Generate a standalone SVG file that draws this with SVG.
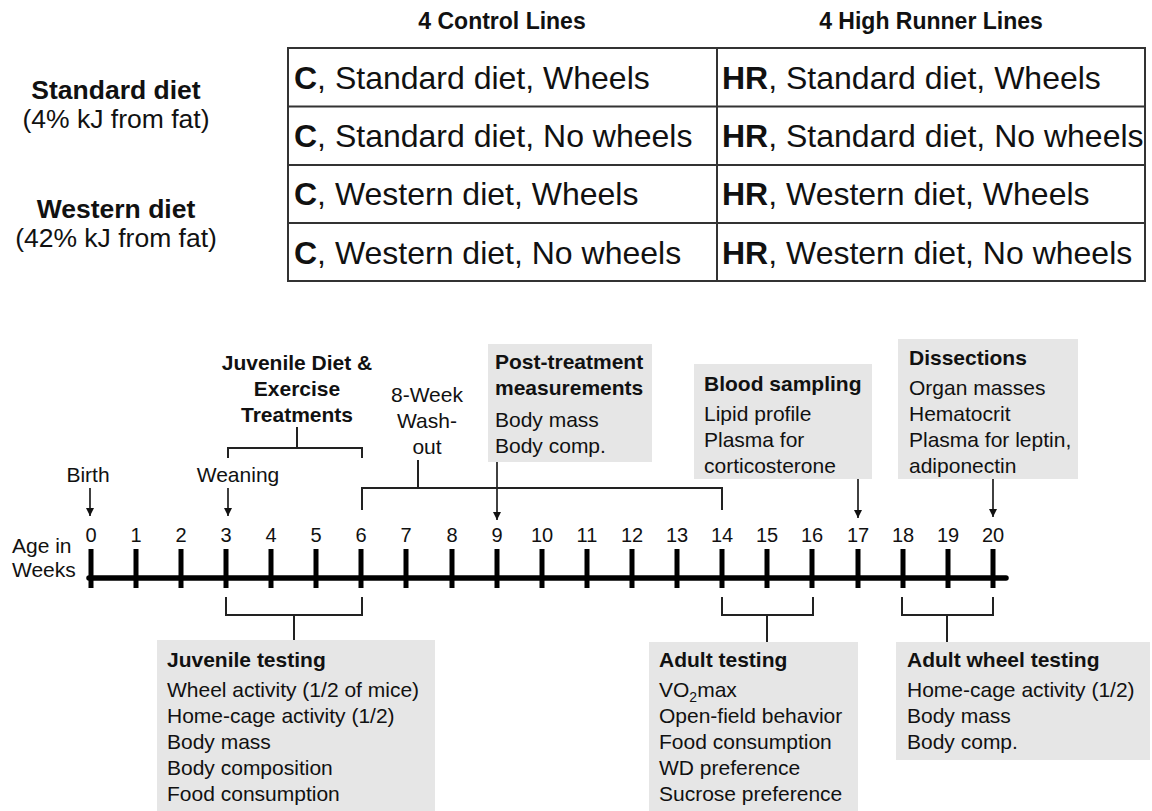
<svg xmlns="http://www.w3.org/2000/svg" width="1152" height="811" viewBox="0 0 1152 811">
<style>
text{font-family:"Liberation Sans",Arial,sans-serif;fill:#111}
.b{font-weight:bold}
.hd{font-size:23px;font-weight:bold;text-anchor:middle}
.lab{font-size:26.5px;text-anchor:middle}
.cell{font-size:32px}
.t{font-size:21px}
.num{font-size:20px;text-anchor:middle}
.mid{text-anchor:middle}
.grid{fill:none;stroke:#333;stroke-width:2}
.box{fill:#e6e6e6}
.br{fill:none;stroke:#222;stroke-width:2}
.ar{stroke:#111;stroke-width:1.6;marker-end:url(#ah)}
.axis{stroke:#000;stroke-width:5.5;stroke-linecap:round}
.tick{stroke:#000;stroke-width:5}
</style>
<defs>
<marker id="ah" markerUnits="userSpaceOnUse" markerWidth="10" markerHeight="10" refX="8" refY="4" orient="auto">
<path d="M0,0 L8,4 L0,8 Z" fill="#111"/>
</marker>
</defs>

<g id="table">
<text class="hd" x="502" y="29">4 Control Lines</text>
<text class="hd" x="931" y="29">4 High Runner Lines</text>
<text class="lab b" x="116" y="99">Standard diet</text>
<text class="lab" x="116" y="128">(4% kJ from fat)</text>
<text class="lab b" x="116" y="218">Western diet</text>
<text class="lab" x="116" y="247">(42% kJ from fat)</text>
<rect class="grid" x="288" y="48" width="857" height="233"/>
<path class="grid" d="M288,106.5H1145M288,165H1145M288,223H1145M717,48V281"/>
<text class="cell" x="294" y="89"><tspan class="b">C</tspan>, Standard diet, Wheels</text>
<text class="cell" x="294" y="147"><tspan class="b">C</tspan>, Standard diet, No wheels</text>
<text class="cell" x="294" y="205"><tspan class="b">C</tspan>, Western diet, Wheels</text>
<text class="cell" x="294" y="264"><tspan class="b">C</tspan>, Western diet, No wheels</text>
<text class="cell" x="722" y="89"><tspan class="b">HR</tspan>, Standard diet, Wheels</text>
<text class="cell" x="722" y="147"><tspan class="b">HR</tspan>, Standard diet, No wheels</text>
<text class="cell" x="722" y="205"><tspan class="b">HR</tspan>, Western diet, Wheels</text>
<text class="cell" x="722" y="264"><tspan class="b">HR</tspan>, Western diet, No wheels</text>
</g>

<g id="axis">
<text class="t" x="12" y="553">Age in</text>
<text class="t" x="12" y="577">Weeks</text>
<line class="axis" x1="89" y1="578" x2="1006" y2="578"/>
<path class="tick" d="M91,549V588M136,549V588M181,549V588M226,549V588M271,549V588M316,549V588M361,549V588M406,549V588M452,549V588M497,549V588M542,549V588M587,549V588M632,549V588M677,549V588M722,549V588M767,549V588M812,549V588M858,549V588M903,549V588M948,549V588M993,549V588"/>
<text class="num" x="91" y="542">0</text>
<text class="num" x="136" y="542">1</text>
<text class="num" x="181" y="542">2</text>
<text class="num" x="226" y="542">3</text>
<text class="num" x="271" y="542">4</text>
<text class="num" x="316" y="542">5</text>
<text class="num" x="361" y="542">6</text>
<text class="num" x="406" y="542">7</text>
<text class="num" x="452" y="542">8</text>
<text class="num" x="497" y="542">9</text>
<text class="num" x="542" y="542">10</text>
<text class="num" x="587" y="542">11</text>
<text class="num" x="632" y="542">12</text>
<text class="num" x="677" y="542">13</text>
<text class="num" x="722" y="542">14</text>
<text class="num" x="767" y="542">15</text>
<text class="num" x="812" y="542">16</text>
<text class="num" x="858" y="542">17</text>
<text class="num" x="903" y="542">18</text>
<text class="num" x="948" y="542">19</text>
<text class="num" x="993" y="542">20</text>
</g>

<g id="birth">
<text class="t mid" x="88" y="482">Birth</text>
</g>
<g id="weaning">
<text class="t mid" x="238" y="482">Weaning</text>
</g>
<g id="treatments">
<text class="t b mid" x="297" y="370">Juvenile Diet &amp;</text>
<text class="t b mid" x="297" y="396">Exercise</text>
<text class="t b mid" x="297" y="422">Treatments</text>
</g>
<g id="washout">
<text class="t mid" x="427" y="402">8-Week</text>
<text class="t mid" x="427" y="428">Wash-</text>
<text class="t mid" x="427" y="454">out</text>
</g>

<g id="post-treatment">
<rect class="box" x="488" y="344" width="164" height="118"/>
<text class="t b" x="495" y="369">Post-treatment</text>
<text class="t b" x="495" y="395">measurements</text>
<text class="t" x="495" y="427">Body mass</text>
<text class="t" x="495" y="453">Body comp.</text>
</g>

<g id="blood-sampling">
<rect class="box" x="694" y="364" width="178" height="115"/>
<text class="t b" x="704" y="391">Blood sampling</text>
<text class="t" x="704" y="421">Lipid profile</text>
<text class="t" x="704" y="447">Plasma for</text>
<text class="t" x="704" y="473">corticosterone</text>
</g>

<g id="dissections">
<rect class="box" x="898" y="339" width="180" height="140"/>
<text class="t b" x="909" y="365">Dissections</text>
<text class="t" x="909" y="395">Organ masses</text>
<text class="t" x="909" y="421">Hematocrit</text>
<text class="t" x="909" y="447">Plasma for leptin,</text>
<text class="t" x="909" y="473">adiponectin</text>
</g>

<g id="juvenile-testing">
<rect class="box" x="157" y="640" width="278" height="171"/>
<text class="t b" x="167" y="667">Juvenile testing</text>
<text class="t" x="167" y="697">Wheel activity (1/2 of mice)</text>
<text class="t" x="167" y="723">Home-cage activity (1/2)</text>
<text class="t" x="167" y="749">Body mass</text>
<text class="t" x="167" y="775">Body composition</text>
<text class="t" x="167" y="801">Food consumption</text>
</g>

<g id="adult-testing">
<rect class="box" x="649" y="642" width="209" height="169"/>
<text class="t b" x="659" y="667">Adult testing</text>
<text class="t" x="659" y="697">VO<tspan font-size="14" dy="5">2</tspan><tspan dy="-5">max</tspan></text>
<text class="t" x="659" y="723">Open-field behavior</text>
<text class="t" x="659" y="749">Food consumption</text>
<text class="t" x="659" y="775">WD preference</text>
<text class="t" x="659" y="801">Sucrose preference</text>
</g>

<g id="adult-wheel-testing">
<rect class="box" x="896" y="642" width="254" height="118"/>
<text class="t b" x="907" y="667">Adult wheel testing</text>
<text class="t" x="907" y="697">Home-cage activity (1/2)</text>
<text class="t" x="907" y="723">Body mass</text>
<text class="t" x="907" y="749">Body comp.</text>
</g>

<g id="connectors">
<line class="ar" x1="90" y1="488" x2="90" y2="516"/>
<line class="ar" x1="228" y1="488" x2="228" y2="516"/>
<line class="ar" x1="497" y1="462" x2="497" y2="520"/>
<line class="ar" x1="858" y1="479" x2="858" y2="518"/>
<line class="ar" x1="993" y1="479" x2="993" y2="517"/>
<path class="br" d="M297,427V448M228,458V448H362V458"/>
<path class="br" d="M418,460V488M362,510V488H722V510"/>
<path class="br" d="M226,597V615H362V597M294,615V640"/>
<path class="br" d="M722,597V615H813V597M767,615V642"/>
<path class="br" d="M902,597V615H993V597M947,615V642"/>
</g>
</svg>
